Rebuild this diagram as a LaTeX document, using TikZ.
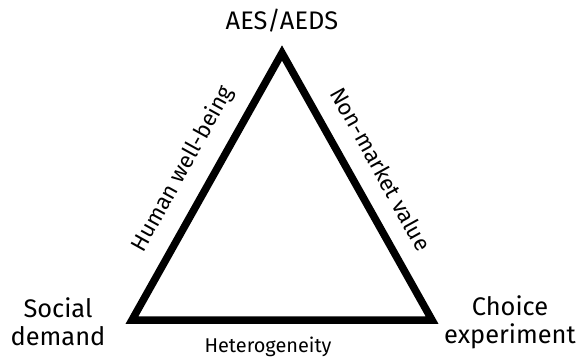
\documentclass[tikz,border=0pt]{standalone}
\usepackage{fontspec}
\setmainfont{Fira Sans}
\begin{document}
\begin{tikzpicture}[x=1bp,y=-1bp,
  side/.style={line width=7.5bp,line join=miter},
  corner/.style={font=\fontsize{25.5}{28}\selectfont,align=center,inner sep=0pt},
  edgelabel/.style={font=\fontsize{22.5}{24}\selectfont,inner sep=0pt}]
  \useasboundingbox (0,0) rectangle (576,360);
  % triangle corners
  \coordinate (top) at (282,53);
  \coordinate (bl) at (132,320);
  \coordinate (br) at (432,320);
  \draw[side] (top) -- (bl) -- (br) -- cycle;
  % corner captions
  \node[corner] (aes) at (282,21) {AES/AEDS};
  \node[corner] (social) at (58,322) {Social\\demand};
  \node[corner] (choice) at (510,322) {Choice\\experiment};
  % side captions
  \node[edgelabel,rotate=61] (hwb) at (183,169) {Human well-being};
  \node[edgelabel,rotate=-61] (nmv) at (381,169) {Non-market value};
  \node[font=\fontsize{20}{22}\selectfont,inner sep=0pt] (het) at (268,347) {Heterogeneity};
\end{tikzpicture}
\end{document}
